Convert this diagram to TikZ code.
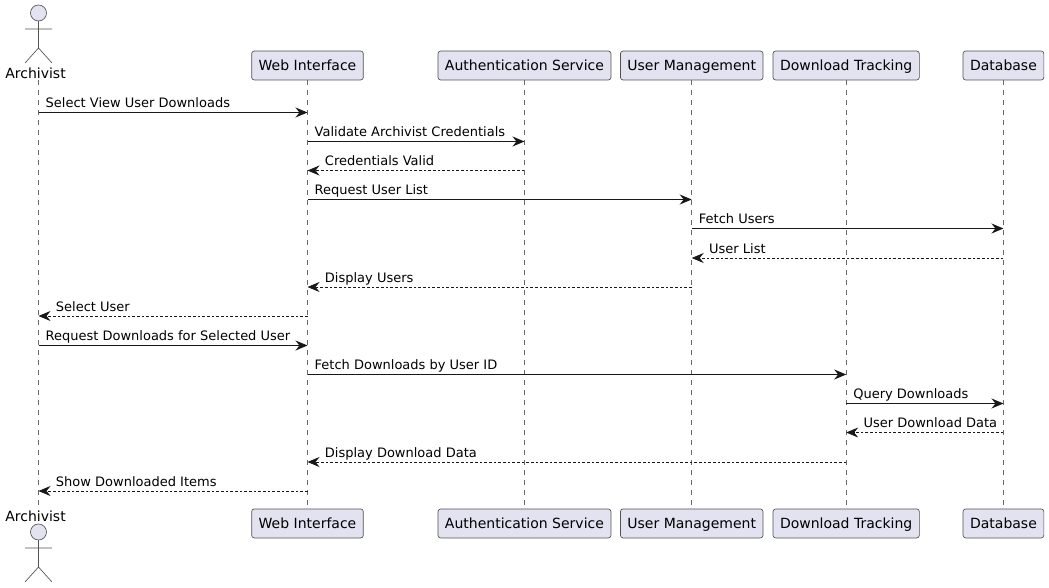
\documentclass[tikz,border=0pt]{standalone}
\usepackage{fontspec}
\setmainfont{DejaVu Sans}
\usetikzlibrary{arrows.meta, positioning}

\definecolor{partfill}{HTML}{E2E2F0}
\definecolor{partline}{HTML}{181818}
\tikzset{
  partbox/.style = {draw=partline!75, line width=0.5pt, fill=partfill, rounded corners=2pt,
    minimum height=21.75pt, inner xsep=5.25pt, inner ysep=0pt, text height=8.9pt, text depth=1.4pt,
    font=\fontsize{10.5pt}{12pt}\selectfont},
  actorname/.style = {inner sep=0pt, font=\fontsize{10.5pt}{12pt}\selectfont},
  lifeline/.style = {draw=partline!65, line width=0.4pt, dash pattern=on 3.75pt off 3.75pt},
  sync/.style = {draw=partline, line width=0.75pt, -{Stealth[length=9pt, width=7.5pt, inset=3pt]}},
  reply/.style = {draw=partline, line width=0.6pt, dash pattern=on 2pt off 1.5pt, -{Stealth[length=9pt, width=7.5pt, inset=3pt]}},
  msglabel/.style = {anchor=base west, inner sep=0pt, yshift=3.4pt, xshift=5pt, font=\fontsize{9.75pt}{12pt}\selectfont},
  backlabel/.style = {msglabel, xshift=7.8pt},
  actorfig/.pic = {
    \draw[draw=partline!75, line width=0.5pt, fill=partfill] (0,-16) circle [radius=6pt];
    \draw[draw=partline!75, line width=0.5pt] (0,-8) -- (0,19) (-13.5,0) -- (13.5,0) (-13.5,34) -- (0,19) -- (13.5,34);
  }
}

\begin{document}
\begin{tikzpicture}[x=0.75pt, y=-0.75pt]
    \useasboundingbox (0,0) rectangle (1049,588);

    % top row
    \node (archName) [actorname] at (35.5,73) {Archivist};
    \coordinate (arch) at (38.5,80);
    \node (web) [partbox] at (307.5,65.5) {Web Interface};
    \node (auth) [partbox, right=55.5pt of web] {Authentication Service};
    \node (users) [partbox, right=6.6pt of auth] {User Management};
    \node (track) [partbox, right=7pt of users] {Download Tracking};
    \node (db) [partbox, right=32.3pt of track] {Database};

    % bottom row
    \node (archNameB) [actorname] at (35.5,516) {Archivist};
    \coordinate (archB) at (38.5,508);
    \node (webB) [partbox, below=321.2pt of web] {Web Interface};
    \node (authB) [partbox, below=321.2pt of auth] {Authentication Service};
    \node (usersB) [partbox, below=321.2pt of users] {User Management};
    \node (trackB) [partbox, below=321.2pt of track] {Download Tracking};
    \node (dbB) [partbox, below=321.2pt of db] {Database};

    \pic at (38.5,29) {actorfig};
    \pic at (38.5,548) {actorfig};

    \draw[lifeline] (arch) -- (archB);
    \foreach \part in {web, auth, users, track, db}
        \draw[lifeline] (\part.south) -- (\part B.north);

    % one row per message
    \foreach \row/\ypos in {1/112.5, 2/141.5, 3/170.5, 4/199.5, 5/228.5, 6/258, 7/287, 8/316, 9/345.5, 10/374.5, 11/403.5, 12/432.5, 13/462, 14/491}
        \coordinate (r\row) at (0,\ypos);

    \draw[sync] (arch |- r1) -- node[msglabel, pos=0] {Select View User Downloads} (web |- r1);
    \draw[sync] (web |- r2) -- node[msglabel, pos=0] {Validate Archivist Credentials} (auth |- r2);
    \draw[reply] (auth |- r3) -- node[backlabel, pos=1] {Credentials Valid} (web |- r3);
    \draw[sync] (web |- r4) -- node[msglabel, pos=0] {Request User List} (users |- r4);
    \draw[sync] (users |- r5) -- node[msglabel, pos=0] {Fetch Users} (db |- r5);
    \draw[reply] (db |- r6) -- node[backlabel, pos=1] {User List} (users |- r6);
    \draw[reply] (users |- r7) -- node[backlabel, pos=1] {Display Users} (web |- r7);
    \draw[reply] (web |- r8) -- node[backlabel, pos=1] {Select User} (arch |- r8);
    \draw[sync] (arch |- r9) -- node[msglabel, pos=0] {Request Downloads for Selected User} (web |- r9);
    \draw[sync] (web |- r10) -- node[msglabel, pos=0] {Fetch Downloads by User ID} (track |- r10);
    \draw[sync] (track |- r11) -- node[msglabel, pos=0] {Query Downloads} (db |- r11);
    \draw[reply] (db |- r12) -- node[backlabel, pos=1] {User Download Data} (track |- r12);
    \draw[reply] (track |- r13) -- node[backlabel, pos=1] {Display Download Data} (web |- r13);
    \draw[reply] (web |- r14) -- node[backlabel, pos=1] {Show Downloaded Items} (arch |- r14);
\end{tikzpicture}
\end{document}
